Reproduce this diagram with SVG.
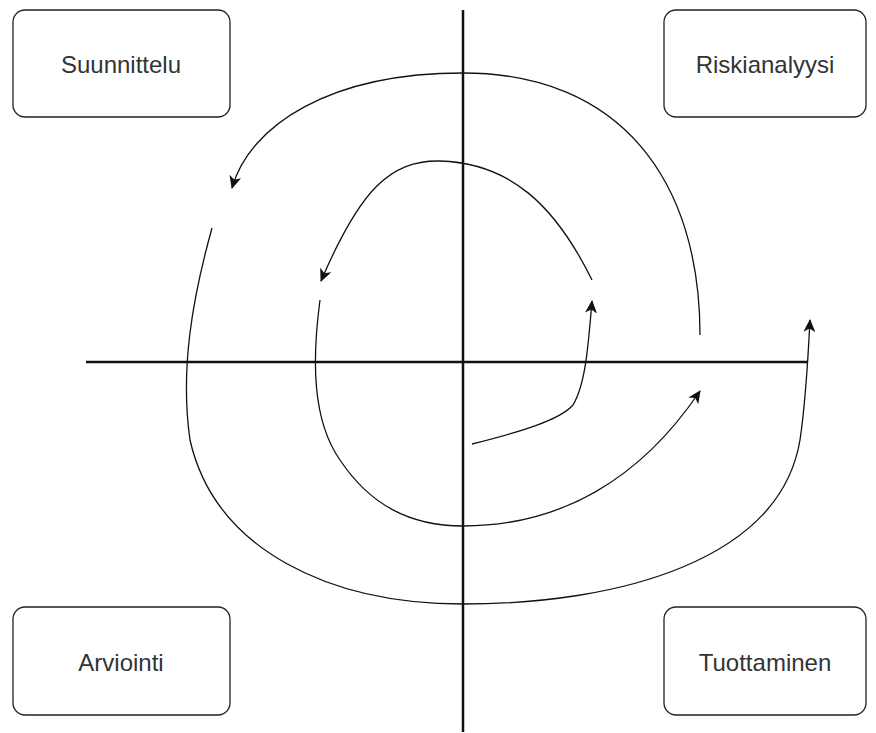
<svg xmlns="http://www.w3.org/2000/svg" width="876" height="733" viewBox="0 0 876 733">
<style>
.box{fill:#fff;stroke:#222;stroke-width:1.3}
.lbl{font-family:"Liberation Sans",Arial,sans-serif;font-size:24px;fill:#333;text-anchor:middle;dominant-baseline:central}
.axis{stroke:#111;stroke-width:2.5;fill:none}
.cur{stroke:#111;stroke-width:1.3;fill:none}
.arr{marker-end:url(#ah)}
</style>
<defs>
<marker id="ah" markerWidth="13" markerHeight="12" viewBox="0 0 13 12" refX="12" refY="6" orient="auto" markerUnits="userSpaceOnUse">
<path d="M0,0 L13,6 L0,12 L3.5,6 Z" fill="#111"/>
</marker>
</defs>
<rect width="876" height="733" fill="#fff"/>
<g id="connectors">
<line class="axis" x1="463" y1="10" x2="463" y2="732"/>
<line class="axis" x1="86" y1="362" x2="808" y2="362"/>
<path class="cur arr" d="M700,335 C700,180 620,73 463,73 C330,73 250,125 232,188"/>
<path class="cur arr" d="M212,228 C192,300 180,370 190,440 C215,550 330,604 463,604 C620,604 780,560 800,440 C806,400 808,360 810,320"/>
<path class="cur arr" d="M592,280 C555,205 510,163 440,161 C390,160 360,190 321,281"/>
<path class="cur arr" d="M320,300 C312,360 312,420 340,460 C370,505 410,526 463,526 C560,526 640,480 700,391"/>
<path class="cur arr" d="M472,444 C520,432 560,420 573,405 C585,385 588,350 592,301"/>
</g>
<g id="suunnittelu">
<rect class="box" x="13" y="10" width="217" height="107" rx="12"/>
<text class="lbl" x="121" y="64">Suunnittelu</text>
</g>
<g id="riskianalyysi">
<rect class="box" x="664" y="10" width="202" height="107" rx="12"/>
<text class="lbl" x="765" y="64">Riskianalyysi</text>
</g>
<g id="arviointi">
<rect class="box" x="13" y="607" width="217" height="108" rx="12"/>
<text class="lbl" x="121" y="662">Arviointi</text>
</g>
<g id="tuottaminen">
<rect class="box" x="664" y="607" width="202" height="108" rx="12"/>
<text class="lbl" x="765" y="662">Tuottaminen</text>
</g>
</svg>
